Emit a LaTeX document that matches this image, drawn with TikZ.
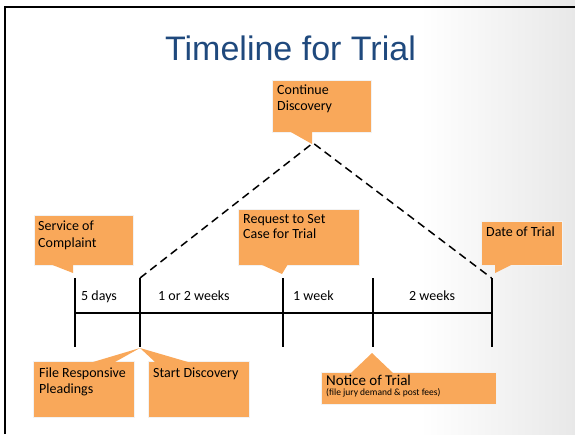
\documentclass[tikz,border=0pt]{standalone}
\usepackage{fontspec}
\setmainfont{Carlito}
\newfontfamily\titlefont{Liberation Sans}
\definecolor{calloutorange}{HTML}{F9A85A}
\definecolor{titleblue}{HTML}{1F497D}
\tikzset{
  box/.style={rectangle, fill=calloutorange, draw=black!5, line width=1.2pt,
    inner sep=0pt, anchor=north west},
  tail/.style={fill=calloutorange},
  calltext/.style={anchor=north west, inner sep=0pt, align=left,
    font=\fontsize{14}{16}\selectfont},
  tick/.style={line width=2pt},
  span/.style={anchor=base west, inner sep=0pt, font=\fontsize{14}{16}\selectfont},
}

\begin{document}
\begin{tikzpicture}[x=1pt,y=-1pt]
  \useasboundingbox (0,0) rectangle (575,434);
  \shade[left color=white, right color=black!9] (420,0) rectangle (575,434);
  \draw[line width=2.5pt] (5,434) -- (5,7) -- (575,7);

  \node[font=\titlefont\fontsize{34}{40}\selectfont, text=titleblue, anchor=base]
    (title) at (290.5,60) {Timeline for Trial};

  % timeline
  \foreach \n/\x in {1/74.5, 2/140, 3/283, 4/373, 5/491.5}{
    \coordinate (top\n) at (\x,278);
    \coordinate (mid\n) at (\x,313);
    \coordinate (bot\n) at (\x,347);
    \draw[tick] (top\n) -- (bot\n);
  }
  \draw[tick] (mid1) -- (mid5);

  \coordinate (apex) at (313,143);
  \draw[line width=1.5pt, dash pattern=on 8pt off 5pt] (top2) -- (apex) -- (top5);

  \foreach \x/\txt [count=\i] in {81/5 days, 158/1 or 2 weeks, 293/1 week, 409/2 weeks}
    \node[span] (span\i) at (\x,300.5) {\txt};

  % callouts above
  \node[box, minimum width=99pt, minimum height=50pt] (svcbox) at (34,215) {};
  \fill[tail] (50,264) -- ([xshift=-1.5pt,yshift=5pt]top1) -- (73,264) -- cycle;
  \node[calltext, font=\fontsize{14}{17}\selectfont] (svc) at (38,221) {Service of\\Complaint};

  \node[box, minimum width=99pt, minimum height=52pt] (contbox) at (272,80) {};
  \fill[tail] (289,131) -- ([xshift=-1pt,yshift=-1pt]apex) -- (312,131) -- cycle;
  \node[calltext, font=\fontsize{14}{15.5}\selectfont] (cont) at (277,85) {Continue\\Discovery};

  \node[box, minimum width=121pt, minimum height=56pt] (reqbox) at (238,209) {};
  \fill[tail] (260,264) -- ([xshift=-1pt,yshift=4pt]top3) -- (288,264) -- cycle;
  \node[calltext, font=\fontsize{14}{14.5}\selectfont] (req) at (243,214.5) {Request to Set\\Case for Trial};

  \node[box, minimum width=81pt, minimum height=44pt] (datebox) at (481,221) {};
  \fill[tail] (495,264) -- ([xshift=3.5pt,yshift=5pt]top5) -- (513,264) -- cycle;
  \node[span] (date) at (486,236) {Date of Trial};

  % callouts below
  \node[box, minimum width=101pt, minimum height=56pt] (filebox) at (33,361) {};
  \fill[tail] (93,362) -- ([yshift=-1pt]bot2) -- (115,362) -- cycle;
  \node[calltext, font=\fontsize{14}{15.5}\selectfont] (file) at (39,368) {File Responsive\\Pleadings};

  \node[box, minimum width=101pt, minimum height=56pt] (startbox) at (148,361) {};
  \fill[tail] (155,362) -- ([yshift=-1pt]bot2) -- (188,362) -- cycle;
  \node[span] (start) at (153,377) {Start Discovery};

  \node[box, minimum width=175pt, minimum height=32pt] (noticebox) at (321,372) {};
  \fill[tail] (351,373) -- ([xshift=-1pt,yshift=-6pt]bot4) -- (393,373) -- cycle;
  \node[span, font=\fontsize{15}{17}\selectfont] (notice) at (326,385.7) {Notice of Trial};
  \node[span, font=\fontsize{9.5}{11}\selectfont] (noticenote) at ([yshift=-10pt]notice.base west)
    {(file jury demand \& post fees)};
\end{tikzpicture}
\end{document}
